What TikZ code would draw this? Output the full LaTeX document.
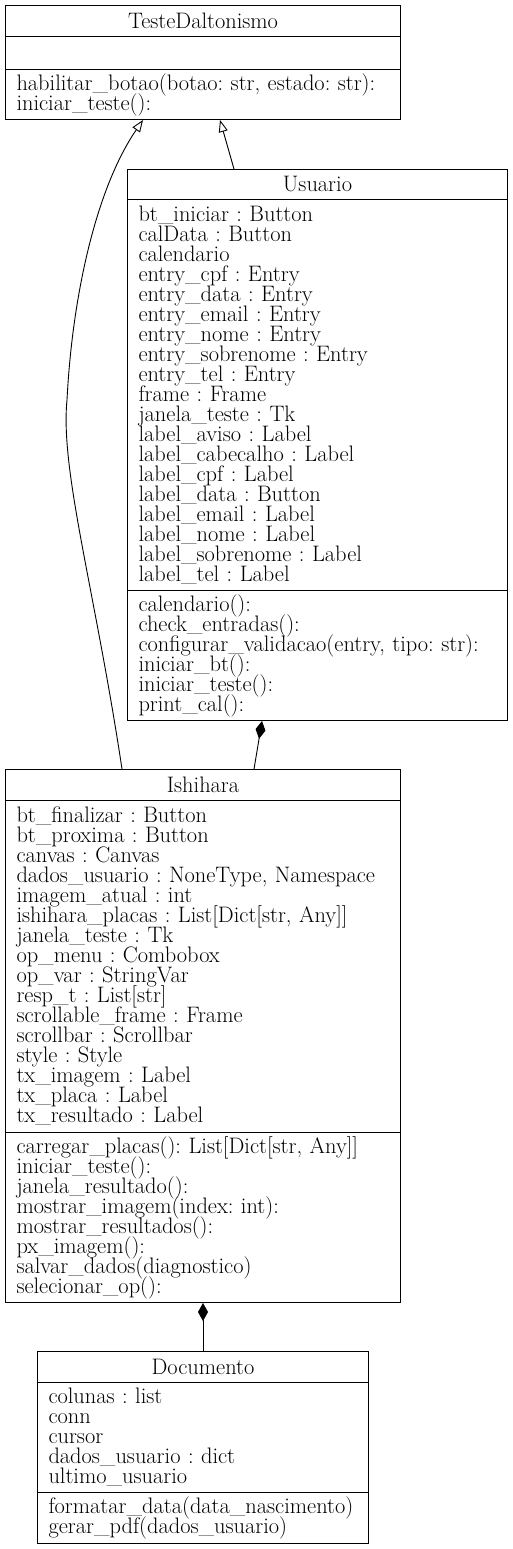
\documentclass[tikz,border=0pt]{standalone}
\usetikzlibrary{arrows.meta}
\frenchspacing
\newcommand{\classfont}{\fontsize{22.4}{20}\selectfont\setlength{\lineskiplimit}{-100pt}}

\begin{document}
\begin{tikzpicture}[
  x=1pt,y=-1pt,
  part/.style={draw,line width=1pt,anchor=north west,inner sep=0pt,font=\classfont},
  title/.style={part,align=center},
  members/.style={part,align=left,inner xsep=11pt},
  inherit/.style={-{Triangle[open,length=12pt,width=9pt]},line width=0.9pt},
  compose/.style={-{Diamond[length=18pt,width=10pt]},line width=0.9pt}
]
\useasboundingbox (0,0) rectangle (513,1549);

% TesteDaltonismo
\node[title,minimum width=395pt,minimum height=31pt] (tdhead) at (5,5) {TesteDaltonismo};
\node[members,text width=373pt,minimum height=33pt] (tdattr) at (5,36) {};
\node[members,text width=373pt,minimum height=50pt] (tdmeth) at (5,69) {habilitar\_botao(botao: str, estado: str):\\iniciar\_teste():};

% Usuario
\node[title,minimum width=380pt,minimum height=30pt] (usuhead) at (127,169) {Usuario};
\node[members,text width=358pt,minimum height=391pt] (usuattr) at (127,199) {bt\_iniciar : Button\\calData : Button\\calendario\\entry\_cpf : Entry\\entry\_data : Entry\\entry\_email : Entry\\entry\_nome : Entry\\entry\_sobrenome : Entry\\entry\_tel : Entry\\frame : Frame\\janela\_teste : Tk\\label\_aviso : Label\\label\_cabecalho : Label\\label\_cpf : Label\\label\_data : Button\\label\_email : Label\\label\_nome : Label\\label\_sobrenome : Label\\label\_tel : Label};
\node[members,text width=358pt,minimum height=130pt] (usumeth) at (127,590) {calendario():\\check\_entradas():\\configurar\_validacao(entry, tipo: str):\\iniciar\_bt():\\iniciar\_teste():\\print\_cal():};

% Ishihara
\node[title,minimum width=395pt,minimum height=31pt] (ishhead) at (5,769) {Ishihara};
\node[members,text width=373pt,minimum height=332pt] (ishattr) at (5,800) {bt\_finalizar : Button\\bt\_proxima : Button\\canvas : Canvas\\dados\_usuario : NoneType, Namespace\\imagem\_atual : int\\ishihara\_placas : List[Dict[str, Any]]\\janela\_teste : Tk\\op\_menu : Combobox\\op\_var : StringVar\\resp\_t : List[str]\\scrollable\_frame : Frame\\scrollbar : Scrollbar\\style : Style\\tx\_imagem : Label\\tx\_placa : Label\\tx\_resultado : Label};
\node[members,text width=373pt,minimum height=170pt] (ishmeth) at (5,1132) {carregar\_placas(): List[Dict[str, Any]]\\iniciar\_teste():\\janela\_resultado():\\mostrar\_imagem(index: int):\\mostrar\_resultados():\\px\_imagem():\\salvar\_dados(diagnostico)\\selecionar\_op():};

% Documento
\node[title,minimum width=331pt,minimum height=31pt] (dochead) at (37,1351) {Documento};
\node[members,text width=309pt,minimum height=110pt] (docattr) at (37,1382) {colunas : list\\conn\\cursor\\dados\_usuario : dict\\ultimo\_usuario};
\node[members,text width=309pt,minimum height=51pt] (docmeth) at (37,1492) {formatar\_data(data\_nascimento)\\gerar\_pdf(dados\_usuario)};

% relations
\draw[inherit] ([xshift=107pt]usuhead.north west) -- ([xshift=215pt]tdmeth.south west);
\draw[inherit] ([xshift=117pt]ishhead.north west) .. controls (95,590) and (60,470) .. (67,400) .. controls (72,300) and (95,190) .. ([xshift=138pt]tdmeth.south west);
\draw[compose] ([xshift=249pt]ishhead.north west) -- ([xshift=135pt]usumeth.south west);
\draw[compose] ([xshift=166pt]dochead.north west) -- ([xshift=198pt]ishmeth.south west);
\end{tikzpicture}
\end{document}
